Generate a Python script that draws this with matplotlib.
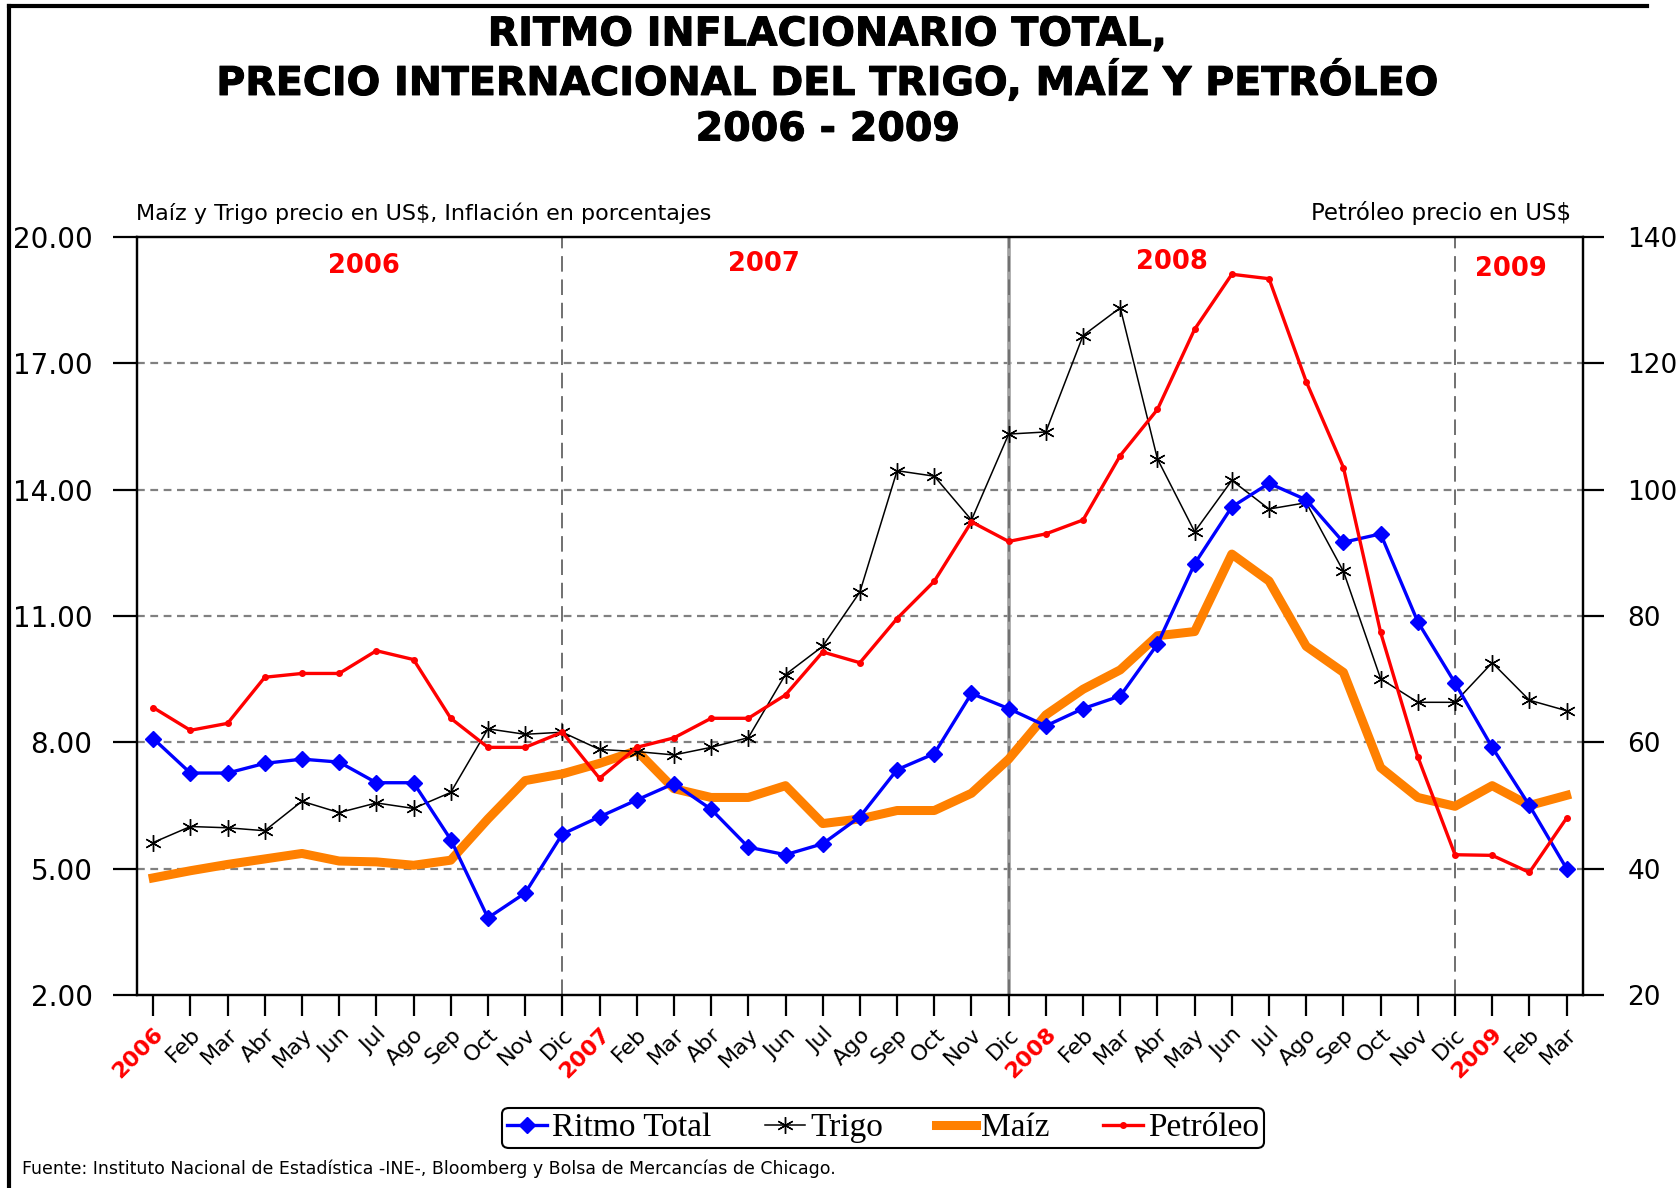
import numpy as np
import matplotlib
matplotlib.use("Agg")
from matplotlib import pyplot as plt
from matplotlib.lines import Line2D
import matplotlib.patheffects as pe

# monthly labels, Jan 2006 .. Mar 2009
months = ['2006', 'Feb', 'Mar', 'Abr', 'May', 'Jun', 'Jul', 'Ago', 'Sep', 'Oct', 'Nov', 'Dic',
          '2007', 'Feb', 'Mar', 'Abr', 'May', 'Jun', 'Jul', 'Ago', 'Sep', 'Oct', 'Nov', 'Dic',
          '2008', 'Feb', 'Mar', 'Abr', 'May', 'Jun', 'Jul', 'Ago', 'Sep', 'Oct', 'Nov', 'Dic',
          '2009', 'Feb', 'Mar']

ritmo_total = [8.09, 7.27, 7.27, 7.50, 7.60, 7.53, 7.04, 7.04, 5.69, 3.83, 4.42, 5.82,
               6.23, 6.63, 7.02, 6.41, 5.51, 5.33, 5.59, 6.23, 7.35, 7.73, 9.16, 8.80,
               8.39, 8.80, 9.10, 10.33, 12.24, 13.59, 14.15, 13.76, 12.75, 12.95, 10.86, 9.41,
               7.88, 6.50, 5.00]

trigo = [5.62, 6.00, 5.97, 5.90, 6.60, 6.33, 6.56, 6.43, 6.81, 8.32, 8.19, 8.24,
         7.83, 7.78, 7.70, 7.88, 8.11, 9.61, 10.28, 11.57, 14.45, 14.32, 13.28, 15.32,
         15.37, 17.66, 18.32, 14.73, 13.00, 14.22, 13.54, 13.69, 12.06, 9.51, 8.95, 8.95,
         9.89, 9.00, 8.75]

maiz = [4.78, 4.95, 5.10, 5.23, 5.36, 5.18, 5.16, 5.08, 5.20, 6.18, 7.09, 7.25,
        7.50, 7.80, 6.90, 6.69, 6.69, 6.97, 6.07, 6.18, 6.38, 6.38, 6.79, 7.60,
        8.65, 9.26, 9.72, 10.53, 10.63, 12.47, 11.83, 10.28, 9.66, 7.40, 6.69, 6.48,
        6.97, 6.50, 6.74]

petroleo = [65.5, 61.9, 63.0, 70.3, 70.9, 70.9, 74.5, 73.1, 63.8, 59.2, 59.2, 61.6,
            54.3, 59.2, 60.7, 63.8, 63.8, 67.5, 74.3, 72.6, 79.6, 85.5, 94.9, 91.8,
            93.0, 95.2, 105.4, 112.7, 125.4, 134.1, 133.4, 117.1, 103.5, 77.4, 57.7, 42.2,
            42.1, 39.4, 48.0]

years = ['2006', '2007', '2008', '2009']
year_label_x = [5.67, 16.43, 27.4, 36.5]
year_label_y = [19.3, 19.35, 19.4, 19.25]
year_ends = [11, 23, 35]

x = np.arange(len(months))

fig = plt.figure(figsize=(16.79, 11.88), dpi=100)
ax = fig.add_axes([0.0816, 0.1625, 0.8612, 0.638])
ax2 = ax.twinx()

ax.set_xlim(-0.435, 38.44)
ax.set_ylim(2, 20)
ax2.set_ylim(20, 140)

# grid
for v in [5, 8, 11, 14, 17]:
    ax.axhline(v, color='#808080', lw=1.6, ls=(0, (3.5, 2.5)), zorder=1)
for i, xe in enumerate(year_ends):
    if i == 1:
        ax.axvline(xe, color='#a0a0a0', lw=2.6, zorder=1)
    ax.axvline(xe, color='#707070', lw=1.4, ls=(0, (8, 4)), zorder=1)

# series
ax.plot(x, maiz, color='#ff8000', lw=6.5, solid_joinstyle='round', zorder=3, label='Maíz')
ax.plot(x, trigo, color='black', lw=1.1, marker=(6, 2, 0), ms=12, mew=1.0, zorder=4, label='Trigo')
ax.plot(x, ritmo_total, color='#0000ff', lw=2.4, marker='D', ms=8, zorder=5, label='Ritmo Total')
ax2.plot(x, petroleo, color='#ff0000', lw=2.4, marker='o', ms=4, zorder=6, label='Petróleo')

for yl, xl, yy in zip(years, year_label_x, year_label_y):
    ax.text(xl, yy, yl, color='red', fontsize=18.5, fontweight='bold', ha='center', va='center')

# axes styling
for a in (ax, ax2):
    for s in a.spines.values():
        s.set_linewidth(1.6)
ax.set_yticks([2, 5, 8, 11, 14, 17, 20])
ax.set_yticklabels(['%.2f' % v for v in [2, 5, 8, 11, 14, 17, 20]])
ax.tick_params(axis='y', direction='out', length=17, width=1.6, pad=15, labelsize=20)
ax2.set_yticks(range(20, 141, 20))
ax2.tick_params(axis='y', direction='out', length=15, width=1.6, pad=17, labelsize=19)

ax.set_xticks(x)
ax.set_xticklabels(months, rotation=45, ha='right', rotation_mode='anchor', fontsize=16)
ax.tick_params(axis='x', direction='out', length=15, width=1.6, pad=6)
for lbl in ax.get_xticklabels():
    if lbl.get_text().isdigit():
        lbl.set_color('red')
        lbl.set_fontweight('bold')

# titles
thick = [pe.withStroke(linewidth=0.7, foreground='black')]
title_lines = ['RITMO INFLACIONARIO TOTAL,',
               'PRECIO INTERNACIONAL DEL TRIGO, MAÍZ Y PETRÓLEO',
               '2006 - 2009']
for line, ty in zip(title_lines, [0.971, 0.931, 0.891]):
    fig.text(0.493, ty, line, ha='center', va='center', fontsize=28.5, fontweight='bold',
             path_effects=thick)
fig.text(0.081, 0.8207, 'Maíz y Trigo precio en US$, Inflación en porcentajes', ha='left', va='center',
         fontsize=16)
fig.text(0.9357, 0.8207, 'Petróleo precio en US$', ha='right', va='center', fontsize=16.5)
fig.text(0.013, 0.008, 'Fuente: Instituto Nacional de Estadística -INE-, Bloomberg y Bolsa de Mercancías de Chicago.',
         ha='left', va='bottom', fontsize=12.5)

# legend
h1, l1 = ax.get_legend_handles_labels()
h2, l2 = ax2.get_legend_handles_labels()
handles = dict(zip(l1 + l2, h1 + h2))
order = ['Ritmo Total', 'Trigo', 'Maíz', 'Petróleo']
leg = fig.legend([handles[k] for k in order], order, loc='center', bbox_to_anchor=(0.526, 0.0505),
                 ncol=4, frameon=True, fancybox=True, edgecolor='black', framealpha=1,
                 prop={'family': 'Liberation Serif', 'size': 24}, handlelength=1.2,
                 handletextpad=0.15, columnspacing=1.6, borderpad=0.15)
leg.get_frame().set_linewidth(1.5)

# outer frame (left and top)
fig.add_artist(Line2D([9 / 1679, 9 / 1679], [0, 1 - 6 / 1188], color='black', lw=3))
fig.add_artist(Line2D([9 / 1679, 1647 / 1679], [1 - 6 / 1188, 1 - 6 / 1188], color='black', lw=3))

plt.savefig('out.png', dpi=100)
